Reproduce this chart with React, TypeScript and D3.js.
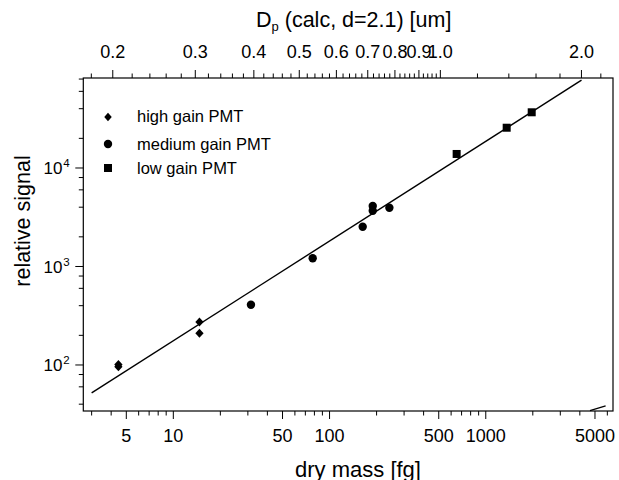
import React from 'react';
import * as d3 from 'd3';

// ---- data ----
const highMass = [4.45, 4.45, 14.7, 14.7];
const highSignal = [101, 96, 273, 210];
const medMass = [31.4, 78, 163, 189, 189, 241.5];
const medSignal = [409, 1211, 2535, 4111, 3686, 3955];
const lowMass = [651, 1361, 1968];
const lowSignal = [13880, 25640, 36780];
const fitMass = [3.0, 4100];
const fitSignal = [52, 78000];
const stubMass = [4645, 5850];
const stubSignal = [34.4, 38.4];

const massMajor = [5, 10, 50, 100, 500, 1000, 5000];
const massMajorLabels = ['5', '10', '50', '100', '500', '1000', '5000'];
const massMinor = [3, 4, 6, 7, 8, 9, 20, 30, 40, 60, 70, 80, 90, 200, 300, 400, 600, 700, 800, 900, 2000, 3000, 4000, 6000];
const signalMajor = [100, 1000, 10000];
const signalExp = ['2', '3', '4'];
const signalMinor = [40, 60, 80, 200, 400, 600, 800, 2000, 4000, 6000, 8000, 20000, 40000, 60000, 80000];
const diamMajor = [0.2, 0.3, 0.4, 0.5, 0.6, 0.7, 0.8, 0.9, 1.0, 2.0];
const diamLabels = ['0.2', '0.3', '0.4', '0.5', '0.6', '0.7', '0.8', '0.9', '1.0', '2.0'];
const diamMinor = [0.18, 0.22, 0.24, 0.26, 0.28, 0.32, 0.34, 0.36, 0.38, 0.42, 0.44, 0.46, 0.48,
  0.52, 0.54, 0.56, 0.58, 0.62, 0.64, 0.66, 0.68, 0.72, 0.74, 0.76, 0.78, 0.82, 0.84, 0.86, 0.88,
  0.92, 0.94, 0.96, 0.98, 1.2, 1.4, 1.6, 1.8, 2.2];
const legendLabels = ['high gain PMT', 'medium gain PMT', 'low gain PMT'];

const massPerDiam3 = 512; // fg per um^3 (conversion of top axis)

const W = 619, H = 480;
const L = 83.3, R = 613, T = 78, B = 411;
const FONT = 'Liberation Sans, Arial, Helvetica, sans-serif';

export default function App() {
  const x = d3.scaleLog().domain([2.653, 6522]).range([L, R]);
  const y = d3.scaleLog().domain([34.1, 81990]).range([B, T]);
  const xd = (d: number) => x(massPerDiam3 * d * d * d);
  const line = d3.line<[number, number]>().x(d => x(d[0])).y(d => y(d[1]));
  const fitPts: [number, number][] = fitMass.map((m, i) => [m, fitSignal[i]]);
  const stubPts: [number, number][] = stubMass.map((m, i) => [m, stubSignal[i]]);

  const diamond = (cx: number, cy: number, s = 4.6) =>
    `M${cx},${cy - s}L${cx + s * 0.9},${cy}L${cx},${cy + s}L${cx - s * 0.9},${cy}Z`;

  const majorLen = 8, minorLen = 4.5;

  return (
    <svg width={W} height={H} style={{ position: 'absolute', left: 0, top: 0, background: '#fff' }}
      fontFamily={FONT}>
      <rect x={0} y={0} width={W} height={H} fill="#fff" />
      {/* fit line */}
      <path d={line(fitPts) || ''} fill="none" stroke="#000" strokeWidth={1.4} />
      <path d={line(stubPts) || ''} fill="none" stroke="#000" strokeWidth={1.2} />

      {/* points */}
      {highMass.map((m, i) => (
        <path key={'h' + i} d={diamond(x(m), y(highSignal[i]))} fill="#000" />
      ))}
      {medMass.map((m, i) => (
        <circle key={'m' + i} cx={x(m)} cy={y(medSignal[i])} r={4.2} fill="#000" />
      ))}
      {lowMass.map((m, i) => (
        <rect key={'l' + i} x={x(m) - 4} y={y(lowSignal[i]) - 4} width={8} height={8} fill="#000" />
      ))}

      {/* frame */}
      <rect x={L} y={T} width={R - L} height={B - T} fill="none" stroke="#000" strokeWidth={1.2} />

      {/* bottom axis */}
      {massMajor.map((m, i) => (
        <g key={'bx' + i}>
          <line x1={x(m)} x2={x(m)} y1={B} y2={B + majorLen} stroke="#000" strokeWidth={1} />
          <text x={x(m)} y={442} fontSize={18} textAnchor="middle">{massMajorLabels[i]}</text>
        </g>
      ))}
      {massMinor.map((m, i) => (
        <line key={'bm' + i} x1={x(m)} x2={x(m)} y1={B} y2={B + minorLen} stroke="#000" strokeWidth={1} />
      ))}
      <text x={358} y={477} fontSize={22} textAnchor="middle">dry mass [fg]</text>

      {/* top axis */}
      {diamMajor.map((d, i) => (
        <g key={'tx' + i}>
          <line x1={xd(d)} x2={xd(d)} y1={T} y2={T - majorLen} stroke="#000" strokeWidth={1} />
          <text x={xd(d)} y={58} fontSize={18} textAnchor="middle">{diamLabels[i]}</text>
        </g>
      ))}
      {diamMinor.map((d, i) => (
        <line key={'tm' + i} x1={xd(d)} x2={xd(d)} y1={T} y2={T - minorLen} stroke="#000" strokeWidth={1} />
      ))}
      <text x={256} y={26.5} fontSize={21.5} textAnchor="start">
        <tspan>D</tspan>
        <tspan fontSize={13} dy={4}>p</tspan>
        <tspan dy={-4}> (calc, d=2.1) [um]</tspan>
      </text>

      {/* left axis */}
      {signalMajor.map((s, i) => (
        <g key={'ly' + i}>
          <line x1={L} x2={L - majorLen} y1={y(s)} y2={y(s)} stroke="#000" strokeWidth={1} />
          <text x={62.5} y={y(s) + 6.5} fontSize={17} textAnchor="end">10</text>
          <text x={63.2} y={y(s) - 0.5} fontSize={11.5} textAnchor="start">{signalExp[i]}</text>
        </g>
      ))}
      {signalMinor.map((s, i) => (
        <line key={'lm' + i} x1={L} x2={L - minorLen} y1={y(s)} y2={y(s)} stroke="#000" strokeWidth={1} />
      ))}
      <text transform="translate(30,221) rotate(-90)" fontSize={21.5} textAnchor="middle">relative signal</text>

      {/* legend */}
      <path d={diamond(108, 117, 4.2)} fill="#000" />
      <circle cx={108} cy={144} r={4.2} fill="#000" />
      <rect x={104} y={164} width={8} height={8} fill="#000" />
      {legendLabels.map((t, i) => (
        <text key={'lg' + i} x={137} y={[122, 150, 174][i]} fontSize={16.5}>{t}</text>
      ))}
    </svg>
  );
}
